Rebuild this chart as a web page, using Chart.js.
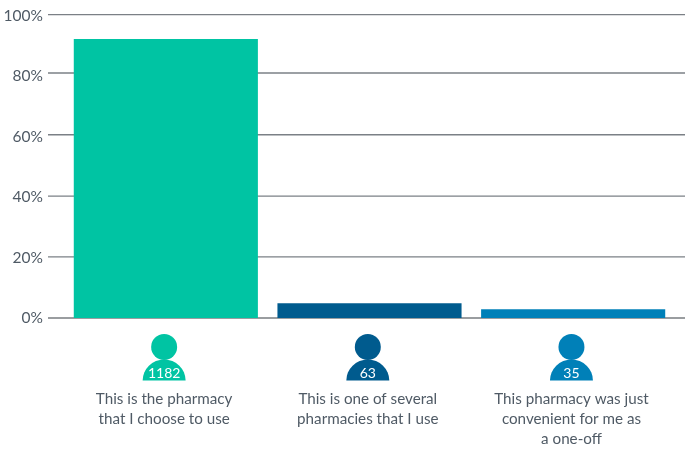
<!DOCTYPE html>
<html>
<head>
<meta charset="utf-8">
<style>
body { margin: 0; background: #fff; }
#wrap { width: 685px; height: 450px; }
</style>
<script src="https://cdn.jsdelivr.net/npm/chart.js@4"></script>
</head>
<body>
<div id="wrap"><canvas id="chart" width="685" height="450"></canvas></div>
<script>
const categories = [
    ['This is the pharmacy', 'that I choose to use'],
    ['This is one of several', 'pharmacies that I use'],
    ['This pharmacy was just', 'convenient for me as', 'a one-off']
];
const shares = [92.2, 4.9, 2.9];
const counts = ['1182', '63', '35'];
const barColors = ['#00c4a3', '#005b8e', '#0080b8'];
const yTicks = [0, 20, 40, 60, 80, 100];
// the rules in the picture do not sit quite level with their labels
const gridValues = [0, 20.2, 40.3, 60.6, 81, 100.3];

const textColor = '#4f5a65';
const fontFamily = 'Lato, "Noto Sans", sans-serif';
const labelShift = -1.7;

// grid lines run past the category band on both sides
const longGrid = {
    id: 'longGrid',
    beforeDatasetsDraw(chart) {
        const ctx = chart.ctx;
        const y = chart.scales.y;
        ctx.save();
        gridValues.forEach(v => {
            const py = y.getPixelForValue(v);
            ctx.strokeStyle = v === 0 ? '#9a9da0' : '#7b8086';
            ctx.lineWidth = v === 0 ? 2 : 1.4;
            ctx.beginPath();
            ctx.moveTo(48, py);
            ctx.lineTo(chart.width, py);
            ctx.stroke();
        });
        ctx.restore();
    }
};

// little person icon with the count in its body
const personIcons = {
    id: 'personIcons',
    afterDraw(chart) {
        const ctx = chart.ctx;
        const x = chart.scales.x;
        ctx.save();
        counts.forEach((count, i) => {
            const cx = x.getPixelForValue(i) + labelShift;
            ctx.fillStyle = barColors[i];
            ctx.beginPath();
            ctx.arc(cx, 347, 13, 0, Math.PI * 2);
            ctx.fill();
            ctx.beginPath();
            ctx.ellipse(cx, 380.5, 21.5, 21, 0, Math.PI, 0);
            ctx.closePath();
            ctx.fill();
            ctx.fillStyle = '#ffffff';
            ctx.font = '14px ' + fontFamily;
            ctx.textAlign = 'center';
            ctx.textBaseline = 'middle';
            ctx.fillText(count, cx, 373.5);
        });
        ctx.restore();
    }
};

new Chart(document.getElementById('chart'), {
    type: 'bar',
    data: {
        labels: categories,
        datasets: [{
            data: shares,
            backgroundColor: barColors,
            barPercentage: 0.904,
            categoryPercentage: 1
        }]
    },
    options: {
        responsive: false,
        animation: false,
        layout: { padding: { top: 15.5, right: 10, left: 0, bottom: 0 } },
        plugins: {
            legend: { display: false },
            tooltip: { enabled: false }
        },
        scales: {
            x: {
                afterFit: scale => {
                    scale.height = 132;
                    scale.paddingLeft = 0;
                    scale.paddingRight = 0;
                },
                grid: { display: false, drawTicks: false },
                border: { display: false },
                ticks: {
                    color: textColor,
                    font: { family: fontFamily, size: 15.2, lineHeight: 1.31 },
                    padding: 71,
                    labelOffset: labelShift,
                    maxRotation: 0,
                    autoSkip: false
                }
            },
            y: {
                min: 0,
                max: 100,
                afterFit: scale => {
                    scale.width = 64;
                    scale.paddingTop = 0;
                    scale.paddingBottom = 0;
                },
                afterBuildTicks: scale => { scale.ticks = yTicks.map(v => ({ value: v })); },
                grid: { display: false, drawTicks: false },
                border: { display: false },
                ticks: {
                    color: textColor,
                    font: { family: fontFamily, size: 15.5 },
                    padding: 21,
                    callback: v => v + '%'
                }
            }
        }
    },
    plugins: [longGrid, personIcons]
});
</script>
</body>
</html>
